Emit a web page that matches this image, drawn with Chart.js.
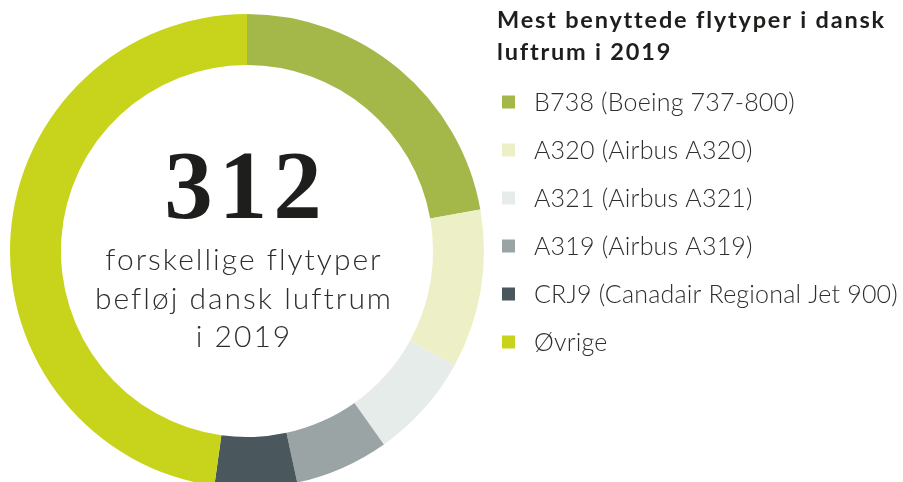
<!DOCTYPE html>
<html>
<head>
<meta charset="utf-8">
<script src="https://cdn.jsdelivr.net/npm/chart.js@4.4.0/dist/chart.umd.min.js"></script>
<style>
  html, body { margin: 0; padding: 0; background: #fff; overflow: hidden; }
  #wrap { position: relative; width: 903px; height: 488px; }
</style>
</head>
<body>
<div id="wrap"><canvas id="chart" width="903" height="488"></canvas></div>
<script>
// Flytyper (andel af alle flyvninger, aflæst af figuren, %)
const labels = ['B738 (Boeing 737-800)', 'A320 (Airbus A320)', 'A321 (Airbus A321)', 'A319 (Airbus A319)', 'CRJ9 (Canadair Regional Jet 900)', 'Øvrige'];
const shares = [22.2, 10.8, 7.2, 6.4, 5.6, 47.8];
const colors = ['#a4b84a', '#edf0c6', '#e6ecea', '#9ba4a5', '#4a585e', '#c8d41c'];

const titleLines = ['Mest benyttede flytyper i dansk', 'luftrum i 2019'];
const centerNumber = '312';
const centerLines = ['forskellige flytyper', 'befløj dansk luftrum', 'i 2019'];

function spacing(ctx, px) {
  if ('letterSpacing' in ctx) ctx.letterSpacing = px + 'px';
}

// Draws the big number in the hole and the legend on the right
const annotations = {
  id: 'annotations',
  afterDraw(chart) {
    const ctx = chart.ctx;
    ctx.save();
    ctx.textAlign = 'center';
    ctx.textBaseline = 'alphabetic';
    ctx.fillStyle = '#1e1e1c';
    ctx.font = 'bold 97px "Liberation Serif"';
    spacing(ctx, 6);
    ctx.fillText(centerNumber, 246, 218);

    ctx.fillStyle = '#2e2e2e';
    ctx.font = '300 30px Lato';
    spacing(ctx, 2);
    centerLines.forEach((line, i) => ctx.fillText(line, 244, 270 + i * 38.5));

    // legend title
    ctx.textAlign = 'left';
    ctx.fillStyle = '#1e1e1c';
    ctx.font = 'bold 23.5px Lato';
    spacing(ctx, 1.8);
    titleLines.forEach((line, i) => ctx.fillText(line, 497, 28 + i * 32));

    // legend items
    ctx.font = '300 25px Lato';
    spacing(ctx, 0.2);
    ctx.textBaseline = 'middle';
    labels.forEach((lab, i) => {
      const y = 102 + i * 48;
      ctx.fillStyle = colors[i];
      ctx.fillRect(502, y - 6.5, 13, 13);
      ctx.fillStyle = '#2e2e2e';
      ctx.fillText(lab, 534, y + 1);
    });
    ctx.restore();
  }
};

new Chart(document.getElementById('chart'), {
  type: 'doughnut',
  data: {
    labels: labels,
    datasets: [{
      data: shares,
      backgroundColor: colors,
      borderWidth: 0,
      hoverOffset: 0
    }]
  },
  options: {
    responsive: false,
    animation: false,
    cutout: '78.5%',
    layout: { padding: { top: 14, left: 10, right: 419, bottom: 0 } },
    plugins: {
      legend: { display: false },
      tooltip: { enabled: false }
    }
  },
  plugins: [annotations]
});
</script>
</body>
</html>
